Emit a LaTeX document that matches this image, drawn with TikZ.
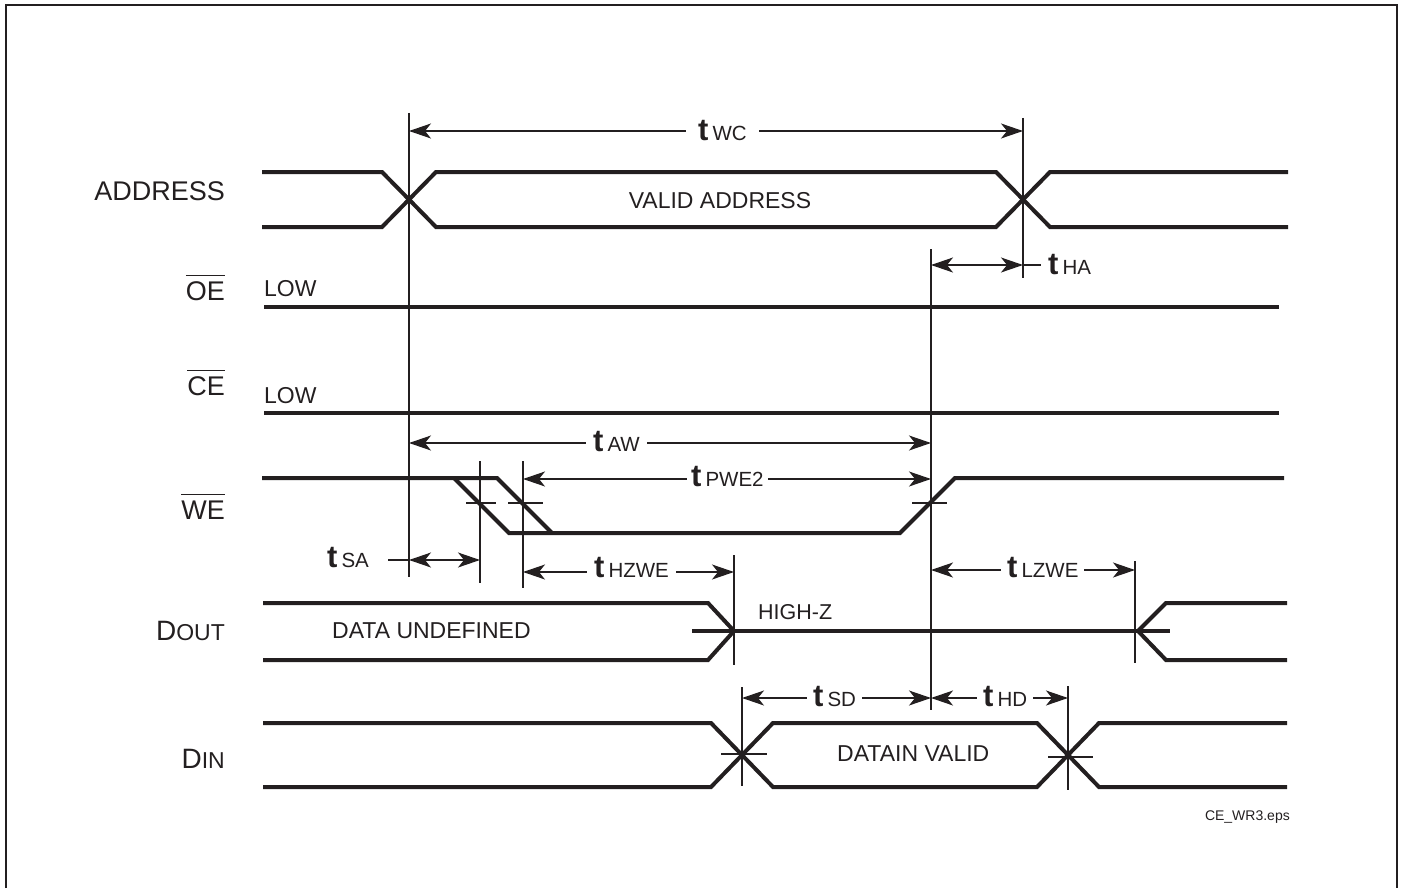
\documentclass[tikz,border=0pt]{standalone}
\usepackage{fontspec}
\setmainfont{Liberation Sans}
\usetikzlibrary{arrows.meta}
\definecolor{ink}{HTML}{231F20}
\newcommand\fs[1]{\fontsize{#1}{#1}\selectfont}
\newcommand\ovl[1]{\vbox{\hrule height 1.6pt\kern 5pt\hbox{#1}}}
\newcommand\tm[1]{{\fs{31}\bfseries t}\kern4pt{\fs{20.5}#1}}
\begin{document}
\begin{tikzpicture}[x=1pt,y=-1pt,
  sig/.style={line width=4pt, draw=ink},
  refl/.style={line width=1.3pt, draw=ink},
  dim/.style={line width=1.3pt, draw=ink, {Stealth[length=22pt,width=15pt,inset=6pt]}-{Stealth[length=22pt,width=15pt,inset=6pt]}},
  lab/.style={anchor=base east, inner sep=0pt, font=\fs{27}, text=ink},
  txt/.style={anchor=base west, inner sep=0pt, font=\fs{23}, text=ink},
  tml/.style={anchor=base west, fill=white, inner xsep=7pt, inner ysep=1pt, text=ink},
]
\useasboundingbox (0,0) rectangle (1404,888);
% frame
\draw[line width=2.4pt, draw=ink] (6,888) -- (6,5) -- (1397,5) -- (1397,888);

% ---- signals ----
% ADDRESS
\draw[sig] (262,172) -- (382,172) -- (436,227) -- (996,227) -- (1050,172) -- (1288,172);
\draw[sig] (262,227) -- (382,227) -- (436,172) -- (996,172) -- (1050,227) -- (1288,227);
% OE, CE
\draw[sig] (264,307) -- (1279,307);
\draw[sig] (264,413) -- (1279,413);
% WE
\draw[sig] (262,478) -- (497,478) -- (552,533);
\draw[sig] (454,478) -- (509,533) -- (900,533) -- (955,478) -- (1284,478);
% DOUT
\draw[sig] (263,603) -- (708,603) -- (734,631) -- (708,660) -- (263,660);
\draw[sig] (692,631) -- (1170,631);
\draw[sig] (1287,603) -- (1166,603) -- (1138,631) -- (1166,660) -- (1287,660);
% DIN
\draw[sig] (263,723) -- (711,723) -- (773,787) -- (1037,787) -- (1099,723) -- (1287,723);
\draw[sig] (263,787) -- (711,787) -- (773,723) -- (1037,723) -- (1099,787) -- (1287,787);

% ---- reference lines ----
\draw[refl] (409,113) -- (409,577);
\draw[refl] (1023,118) -- (1023,278);
\draw[refl] (931,249) -- (931,710);
\draw[refl] (480,461) -- (480,583);
\draw[refl] (523,461) -- (523,588);
\draw[refl] (734,555) -- (734,665);
\draw[refl] (742,687) -- (742,786);
\draw[refl] (1068,686) -- (1068,790);
\draw[refl] (1135,561) -- (1135,663);
% ticks
\draw[refl] (466,503) -- (496,503);
\draw[refl] (508,503) -- (543,503);
\draw[refl] (912,503) -- (947,503);
\draw[refl] (721,754) -- (767,754);
\draw[refl] (1048,757) -- (1093,757);

% ---- dimension arrows ----
\draw[dim] (409,131) -- (1023,131);
\draw[dim] (931,265) -- (1023,265);
\draw[refl] (1023,265) -- (1041,265);
\draw[dim] (409,443) -- (931,443);
\draw[dim] (523,479) -- (931,479);
\draw[refl] (388,560) -- (409,560);
\draw[dim] (409,560) -- (480,560);
\draw[dim] (523,572) -- (734,572);
\draw[dim] (931,570) -- (1135,570);
\draw[dim] (742,698) -- (931,698);
\draw[dim] (931,698) -- (1068,698);

% ---- timing labels ----
\node[tml, inner xsep=12pt] (twc) at (686,140) {\tm{WC}};
\node[anchor=base west, inner sep=0pt, text=ink] (tha) at (1048,274) {\tm{HA}};
\node[tml] (taw) at (586,451) {\tm{AW}};
\node[tml, inner xsep=4pt] (tpwe) at (687,486) {\tm{PWE2}};
\node[anchor=base west, inner sep=0pt, text=ink] (tsa) at (327,567) {\tm{SA}};
\node[tml] (thzwe) at (587,577) {\tm{HZWE}};
\node[tml, inner xsep=6pt] (tlzwe) at (1001,577) {\tm{LZWE}};
\node[tml, inner xsep=6pt] (tsd) at (807,706) {\tm{SD}};
\node[tml, inner xsep=6pt] (thd) at (977,706) {\tm{HD}};

% ---- signal names ----
\node[lab] (address) at (225,200) {ADDRESS};
\node[lab] (oe) at (225,300) {\ovl{OE}};
\node[lab] (ce) at (225,395) {\ovl{CE}};
\node[lab] (we) at (225,519) {\ovl{WE}};
\node[lab] (dout) at (225,640) {{\fs{28}D}{\fs{23}OUT}};
\node[lab] (din) at (225,768) {{\fs{28}D}{\fs{23}IN}};

% ---- inner texts ----
\node[txt, anchor=base] (valid) at (720,208) {VALID ADDRESS};
\node[txt] (low1) at (264,296) {LOW};
\node[txt] (low2) at (264,403) {LOW};
\node[txt] (undef) at (332,638) {DATA UNDEFINED};
\node[txt, font=\fs{21.5}] (highz) at (758,619) {HIGH-Z};
\node[txt] (dvalid) at (837,761) {DATAIN VALID};
\node[anchor=base east, inner sep=0pt, font=\fs{14}, text=ink] (file) at (1290,820) {CE\_WR3.eps};
\end{tikzpicture}
\end{document}
